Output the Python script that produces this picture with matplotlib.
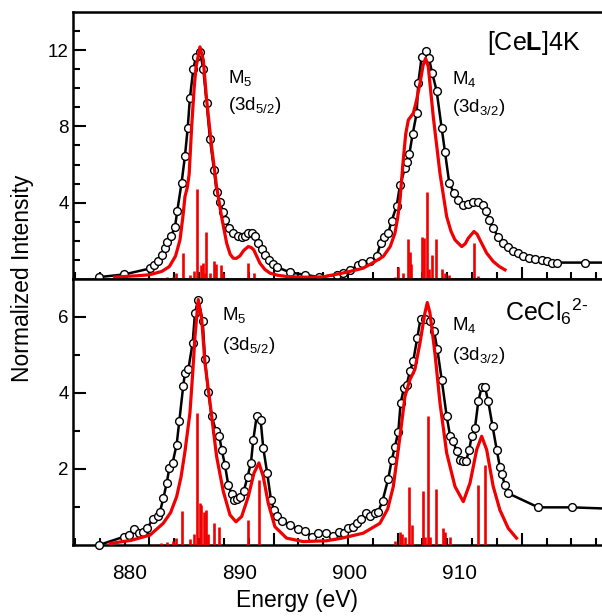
import matplotlib
matplotlib.use("Agg")
import matplotlib.pyplot as plt
from matplotlib.transforms import ScaledTranslation

plt.rcParams['font.family'] = ['Liberation Sans', 'DejaVu Sans']
plt.rcParams['mathtext.fontset'] = 'custom'
plt.rcParams['mathtext.rm'] = 'Liberation Sans'
plt.rcParams['mathtext.it'] = 'Liberation Sans:italic'
plt.rcParams['mathtext.bf'] = 'Liberation Sans:bold'
plt.rcParams['mathtext.default'] = 'regular'

# ---- [CeL]4K (top panel) ----
top_exp_e = [875.95, 877.97, 880.04, 880.36, 880.71, 880.98, 881.25, 881.44, 881.73, 882.05,
             882.24, 882.59, 882.86, 883.08, 883.26, 883.53, 883.75, 884.07, 884.34, 884.61,
             884.88, 885.20, 885.41, 885.68, 885.90, 886.08, 886.43, 886.75, 887.10, 887.43,
             887.70, 887.96, 888.24, 888.50, 888.77, 889.04, 889.31, 889.63, 889.98, 890.30,
             891.30, 892.50, 893.70, 895.08, 895.60, 896.20, 896.80, 897.10, 897.80, 898.30,
             898.63, 898.90, 899.24, 899.52, 899.92, 900.19, 900.59, 900.77, 900.94, 901.21,
             901.53, 901.66, 901.93, 902.25, 902.52, 902.79, 903.14, 903.55, 903.81, 904.16,
             904.54, 904.88, 905.29, 905.69, 906.09, 906.50, 906.85, 907.12, 907.38, 907.70,
             908.11, 908.51, 908.91, 909.32, 909.72, 910.12, 910.60, 911.06, 911.60, 912.00,
             912.41, 912.81, 915.09, 917.50]
top_exp_v = [0.10, 0.24, 0.55, 0.71, 0.92, 1.27, 1.62, 1.96, 2.26, 2.70,
             3.57, 5.05, 6.45, 7.90, 9.50, 10.99, 11.65, 11.91, 11.00, 9.21,
             7.32, 5.72, 4.58, 4.06, 3.53, 3.10, 2.66, 2.40, 2.28, 2.19,
             2.23, 2.40, 2.43, 2.23, 1.91, 1.57, 1.27, 1.01, 0.80, 0.62,
             0.35, 0.22, 0.10, 0.22, 0.31, 0.45, 0.75, 0.83, 0.92, 1.18,
             1.88, 2.19, 2.40, 3.06, 3.83, 4.93, 5.81, 6.15, 6.55, 7.60,
             8.69, 10.26, 11.62, 11.96, 11.57, 10.78, 9.87, 7.90, 6.68, 5.02,
             4.50, 4.15, 3.88, 3.94, 4.06, 4.06, 3.88, 3.59, 3.10, 2.66,
             2.19, 1.91, 1.70, 1.49, 1.36, 1.21, 1.09, 1.04, 0.97, 0.92,
             0.86, 0.86, 0.86, 0.86]

top_sim_e = [877.2, 879.0, 880.0, 881.0, 881.6, 882.1, 882.46, 882.7, 882.86, 883.05,
             883.2, 883.4, 883.6, 883.75, 884.07, 884.34, 884.61, 885.01, 885.41, 885.81,
             886.22, 886.5, 886.75, 887.0, 887.29, 887.6, 887.96, 888.2, 888.4, 888.9,
             889.3, 889.7, 890.3, 891.06, 892.0, 893.0, 894.0, 894.5, 895.5, 896.5,
             897.23, 898.0, 898.84, 899.4, 899.78, 900.0, 900.19, 900.45, 900.65, 900.86,
             901.26, 901.5, 901.8, 902.05, 902.25, 902.47, 902.87, 903.41, 903.95, 904.3,
             904.62, 905.16, 905.45, 905.69, 906.15, 906.4, 906.63, 907.17, 907.7, 908.2,
             908.65]
top_sim_v = [0.10, 0.17, 0.22, 0.40, 0.65, 1.20, 2.05, 3.30, 4.32, 4.80,
             5.50, 7.98, 10.0, 11.1, 12.17, 11.48, 9.38, 6.94, 4.84, 3.27,
             1.88, 1.30, 1.09, 1.08, 1.21, 1.50, 1.70, 1.65, 1.53, 0.83,
             0.50, 0.31, 0.20, 0.13, 0.10, 0.09, 0.11, 0.18, 0.30, 0.45,
             0.57, 0.85, 1.18, 1.70, 2.40, 3.20, 4.15, 6.24, 7.60, 8.34,
             8.69, 9.30, 10.26, 11.20, 11.57, 11.13, 8.51, 5.54, 3.27, 2.50,
             2.05, 1.70, 1.85, 2.14, 2.49, 2.35, 2.05, 1.36, 0.92, 0.65,
             0.48]

top_stick_e = [880.3, 880.9, 881.4, 881.9, 882.14, 882.67, 883.3, 883.55, 883.8, 884.12,
               884.28, 884.45, 884.55, 884.9, 885.2, 885.4, 885.74, 885.9, 887.96, 888.4,
               899.78, 900.05, 900.4, 900.8, 900.99, 901.1, 901.93, 902.14, 902.39, 902.55,
               902.79, 903.06, 903.6, 903.8, 904.1, 906.15, 906.5]
top_stick_v = [0.05, 0.05, 0.08, 0.12, 0.34, 1.36, 0.20, 0.40, 4.71, 0.74,
               0.83, 0.30, 2.49, 0.30, 0.92, 0.80, 0.74, 0.30, 0.83, 0.30,
               0.10, 0.65, 0.30, 2.09, 1.44, 0.80, 2.19, 2.14, 4.58, 0.50,
               1.27, 2.09, 0.50, 0.30, 0.20, 1.91, 0.15]

# ---- CeCl6 2- (bottom panel) ----
bot_exp_e = [875.95, 877.97, 878.37, 878.78, 879.15, 879.50, 879.82, 880.26, 880.71, 880.85,
             881.12, 881.39, 881.60, 881.87, 882.19, 882.40, 882.72, 882.86, 883.13, 883.48,
             883.67, 883.93, 884.29, 884.47, 884.74, 885.01, 885.36, 885.63, 885.82, 886.08,
             886.35, 886.62, 886.81, 887.03, 887.29, 887.61, 887.91, 888.18, 888.36, 888.64,
             888.96, 889.17, 889.49, 889.79, 890.03, 890.30, 890.65, 891.32, 891.99, 892.53,
             893.07, 893.60, 894.22, 894.81, 895.30, 895.67, 896.02, 896.42, 896.69, 897.02,
             897.42, 897.77, 898.17, 898.44, 898.79, 899.24, 899.52, 899.78, 900.05, 900.24,
             900.51, 900.73, 900.99, 901.26, 901.58, 901.85, 902.20, 902.60, 902.93, 903.19,
             903.55, 903.95, 904.22, 904.48, 904.75, 905.02, 905.29, 905.50, 905.77, 905.96,
             906.23, 906.50, 906.77, 907.03, 907.30, 907.65, 907.98, 908.24, 908.38, 908.65,
             908.91, 911.33, 914.02, 917.50]
bot_exp_v = [0.00, 0.22, 0.26, 0.41, 0.31, 0.35, 0.44, 0.68, 0.75, 0.88,
             1.23, 1.63, 2.02, 2.17, 2.64, 3.25, 4.18, 4.53, 4.62, 5.32,
             6.11, 6.46, 5.89, 4.90, 4.02, 3.40, 2.99, 2.86, 2.51, 2.11,
             1.58, 1.35, 1.19, 1.21, 1.25, 1.43, 1.80, 2.17, 2.75, 3.39,
             3.28, 2.55, 1.89, 1.19, 0.92, 0.77, 0.64, 0.53, 0.41, 0.38,
             0.22, 0.32, 0.31, 0.24, 0.35, 0.31, 0.44, 0.48, 0.57, 0.68,
             0.84, 0.75, 0.84, 0.88, 1.17, 1.74, 2.23, 2.59, 2.97, 3.74,
             4.13, 4.22, 4.57, 4.85, 5.45, 5.96, 5.94, 5.89, 5.63, 5.16,
             4.35, 3.39, 2.88, 2.73, 2.46, 2.24, 2.22, 2.20, 2.51, 2.86,
             3.08, 3.78, 4.16, 4.16, 3.78, 3.12, 2.51, 2.05, 1.87, 1.58,
             1.36, 0.99, 0.99, 0.95]

bot_sim_e = [876.82, 878.5, 880.04, 881.11, 881.7, 882.19, 882.55, 882.86, 883.26, 883.5,
             883.67, 883.93, 884.21, 884.47, 884.88, 885.41, 885.95, 886.49, 886.97, 887.43,
             887.96, 888.42, 888.82, 889.17, 889.57, 890.11, 891.05, 892.39, 894.26, 895.5,
             897.22, 898.57, 899.2, 899.65, 900.19, 900.59, 900.99, 901.39, 901.8, 902.2,
             902.39, 902.6, 903.0, 903.41, 903.95, 904.62, 905.29, 905.83, 906.37, 906.77,
             907.17, 907.7, 908.24, 908.91, 909.58]
bot_sim_v = [0.04, 0.12, 0.26, 0.57, 0.85, 1.27, 1.80, 2.46, 3.47, 4.60,
             5.50, 6.46, 5.94, 4.79, 3.74, 2.33, 1.41, 0.79, 0.61, 0.75,
             1.27, 1.89, 2.16, 1.80, 1.10, 0.48, 0.18, 0.09, 0.11, 0.18,
             0.31, 0.57, 0.95, 1.54, 2.86, 3.91, 4.35, 4.62, 5.32, 6.11,
             6.38, 6.11, 5.06, 3.74, 2.42, 1.54, 1.14, 1.63, 2.51, 2.86,
             2.51, 1.54, 0.92, 0.44, 0.18]

bot_stick_e = [880.3, 880.9, 881.4, 881.9, 882.1, 882.59, 883.3, 883.55, 883.85, 884.07,
               884.19, 884.39, 884.55, 884.7, 885.2, 885.63, 887.96, 888.85, 899.78, 900.19,
               900.35, 900.6, 900.94, 901.15, 902.01, 902.2, 902.47, 902.6, 903.06, 903.68,
               903.8, 904.2, 906.5, 907.03]
bot_stick_v = [0.03, 0.05, 0.08, 0.10, 0.18, 0.90, 0.15, 0.30, 3.47, 1.10,
               1.06, 0.88, 0.92, 0.30, 0.57, 0.48, 0.66, 1.71, 0.10, 0.35,
               0.30, 0.20, 1.52, 0.53, 1.41, 0.20, 3.40, 0.20, 1.47, 0.44,
               0.35, 0.20, 1.58, 2.11]

xtick_values = [880, 890, 900, 910]
# the printed labels sit left of their ticks in the original (pixels)
xtick_label_shift = [-19.5, -33.6, -47.7, -61.8]

RED = '#f00000'

fig = plt.figure(figsize=(6.02, 6.16), dpi=100)
ax_top = fig.add_axes([0.1213, 0.5471, 0.9103, 0.4334])
ax_bot = fig.add_axes([0.1213, 0.1153, 0.9103, 0.4318])


def draw_panel(ax, exp_e, exp_v, sim_e, sim_v, stick_e, stick_v):
    ax.plot(exp_e, exp_v, color='black', lw=1.8, marker='o', ms=5.6,
            mfc='white', mec='black', mew=1.0, clip_on=False, zorder=3)
    ax.vlines(stick_e, 0, stick_v, color=RED, lw=1.9, zorder=4)
    ax.plot(sim_e, sim_v, color=RED, lw=2.3, zorder=5)
    ax.set_xlim(873.84, 918.0)
    ax.set_xticks(xtick_values)
    ax.set_xticks(range(874, 918, 2), minor=True)
    ax.tick_params(which='both', direction='in', top=False, right=False, width=1.5)
    ax.tick_params(which='major', length=9)
    ax.tick_params(which='minor', length=5)
    ax.tick_params(axis='y', labelsize=13.5, pad=3)
    ax.tick_params(axis='x', labelsize=15, pad=14)
    for side in ['left', 'bottom', 'top', 'right']:
        ax.spines[side].set_linewidth(1.8)


draw_panel(ax_top, top_exp_e, top_exp_v, top_sim_e, top_sim_v, top_stick_e, top_stick_v)
draw_panel(ax_bot, bot_exp_e, bot_exp_v, bot_sim_e, bot_sim_v, bot_stick_e, bot_stick_v)

ax_top.set_ylim(0, 14)
ax_top.set_yticks([4, 8, 12])
ax_top.set_yticks(range(1, 14), minor=True)
ax_top.set_xticklabels([])

ax_bot.set_ylim(0, 7)
ax_bot.set_yticks([2, 4, 6])
ax_bot.set_yticks([1, 3, 5], minor=True)
ax_bot.set_xticklabels([str(v) for v in xtick_values])
for lab, dx in zip(ax_bot.get_xticklabels(), xtick_label_shift):
    lab.set_transform(lab.get_transform() + ScaledTranslation(dx / 100, 0, fig.dpi_scale_trans))

# annotations
fig.text(228 / 602, 1 - 78 / 616, 'M$_5$', fontsize=13.5, va='center')
fig.text(228 / 602, 1 - 106 / 616, '(3d$_{5/2}$)', fontsize=13.5, va='center')
fig.text(452 / 602, 1 - 79 / 616, 'M$_4$', fontsize=13.5, va='center')
fig.text(452 / 602, 1 - 107 / 616, '(3d$_{3/2}$)', fontsize=13.5, va='center')
fig.text(487 / 602, 1 - 43 / 616, r'[Ce$\mathbf{L}$]4K', fontsize=18, va='center')

fig.text(222 / 602, 1 - 315 / 616, 'M$_5$', fontsize=13.5, va='center')
fig.text(222 / 602, 1 - 346 / 616, '(3d$_{5/2}$)', fontsize=13.5, va='center')
fig.text(452 / 602, 1 - 325 / 616, 'M$_4$', fontsize=13.5, va='center')
fig.text(452 / 602, 1 - 355 / 616, '(3d$_{3/2}$)', fontsize=13.5, va='center')
fig.text(505 / 602, 1 - 312 / 616, r'CeCl$_6$$^{2\text{-}}$', fontsize=18, va='center')

fig.text(22 / 602, 1 - 278 / 616, 'Normalized Intensity', fontsize=16.5,
         rotation=90, ha='center', va='center')
fig.text(297 / 602, 1 - 600 / 616, 'Energy (eV)', fontsize=16.5, ha='center', va='center')

fig.savefig('out.png', dpi=100)
